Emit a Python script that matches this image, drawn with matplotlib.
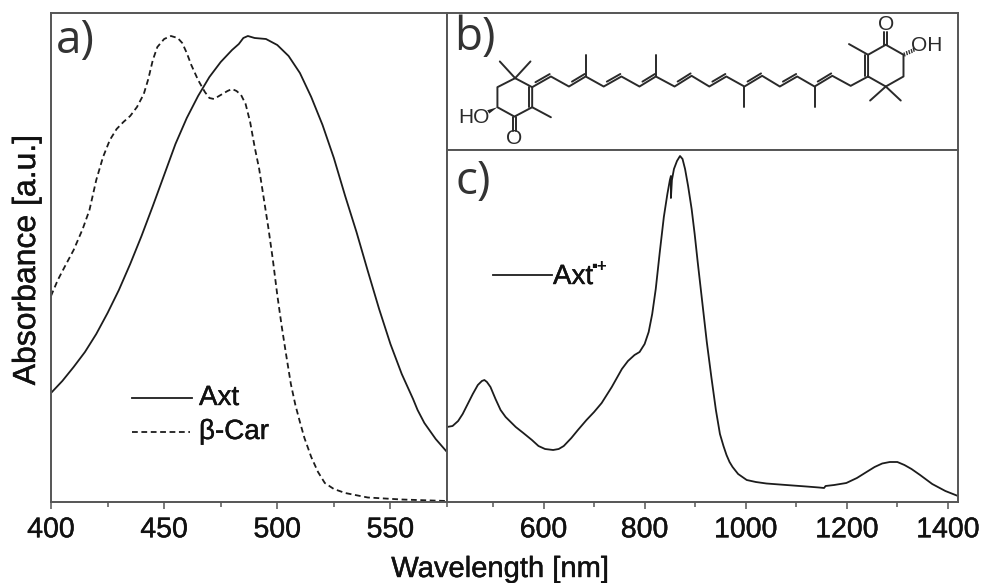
import matplotlib
matplotlib.use("Agg")
import matplotlib.pyplot as plt
import matplotlib.patheffects as pe
from matplotlib.ticker import MultipleLocator

W, H = 982, 583
INK = "#1c1c1c"
FRAME = "#555555"
plt.rcParams["font.family"] = ["Liberation Sans", "DejaVu Sans"]

# --- panel a: absorbance ---
AXT_NM = [400, 405, 410, 415, 420, 425, 430, 435, 440, 445, 450, 455, 460, 465, 470, 475, 480,
          483, 485, 487, 490, 495, 500, 505, 510, 515, 520, 525, 530, 535, 540, 545, 550, 553,
          555, 560, 562, 565, 570, 575]
AXT_ABS = [109, 121, 135, 150, 168, 189, 212, 238, 266, 296, 327, 358, 384, 406, 425, 440, 452,
           458, 464, 466, 464, 463, 457, 446, 429, 405, 377, 344, 306, 270, 231, 193, 158, 140,
           128, 103, 92, 79, 63, 50]
CAR_NM = [400, 403, 406, 410, 414, 417, 420, 423, 426, 429, 432, 435, 438, 441, 443, 445, 447,
          450, 453, 456, 458, 460, 462, 465, 468, 470, 472, 475, 478, 480, 482, 484, 486, 488,
          490, 492, 494, 496, 498, 500, 502, 504, 506, 508, 510, 512, 515, 518, 521, 525, 530,
          540, 555, 575]
CAR_ABS = [206, 222, 235, 252, 273, 292, 322, 345, 362, 373, 380, 386, 395, 408, 423, 442, 455,
           463, 466, 464, 459, 449, 437, 422, 410, 404, 403, 407, 411, 413, 411, 407, 398, 380,
           355, 333, 304, 275, 243, 207, 175, 146, 118, 97, 80, 64, 45, 30, 19, 13, 9,
           4.5, 2.5, 1]

# --- panel c: radical cation ---
RAD_NM = [409, 420, 431, 440, 451, 460, 470, 478, 483, 488, 495, 505, 515, 525, 535, 545, 560,
          577, 590, 603, 619, 630, 640, 655, 668, 685, 700, 715, 725, 735, 745, 755, 767, 780,
          790, 800, 808, 815, 822, 830, 838, 845, 850, 852, 852, 854, 858, 864, 870, 875, 880,
          886, 893, 899, 905, 914, 923, 932, 941, 949, 956, 962, 968, 974, 985, 1002, 1020,
          1041, 1080, 1120, 1145, 1155, 1158, 1175, 1199, 1220, 1239, 1255, 1270, 1285, 1300,
          1314, 1328, 1345, 1369, 1395, 1420]
RAD_ABS = [75, 76, 81, 88, 99, 108, 117, 121, 122, 120, 115, 103, 92, 85, 80, 75, 69,
           62, 56, 53, 52, 53, 56, 64, 72, 82, 90, 99, 107, 115, 124, 133, 141, 147,
           150, 158, 170, 188, 213, 250, 285, 308, 322, 326, 304, 322, 333, 341, 346, 343, 333,
           316, 293, 268, 240, 200, 160, 125, 92, 68, 56, 47, 40, 35, 28, 22, 20,
           18.5, 17, 15.5, 14.5, 14, 16, 17, 19, 24, 30, 35, 38.5, 40, 40,
           37, 33, 27, 18, 11, 6]

# --- panel b: skeletal formula, x/y in the panel's own drawing units ---
CHAIN_X = [250, 305, 358, 407, 460, 512, 565, 613, 668, 718, 770, 820, 873, 925, 977, 1028, 1079, 1131, 1185, 1236]
CHAIN_Y = [262, 230, 260, 230, 260, 230, 260, 230, 260, 228, 260, 230, 260, 228, 260, 230, 260, 228, 258, 230]
CHAIN_DOUBLE = [1, 3, 5, 7, 9, 11, 13, 15, 17]
RING_L_X = [200, 250, 250, 198, 148, 148, 200]
RING_L_Y = [235, 262, 322, 350, 322, 262, 235]
RING_R_X = [1236, 1236, 1288, 1340, 1340, 1288, 1236]
RING_R_Y = [230, 165, 135, 165, 230, 260, 230]
SINGLE_BONDS = [((407, 230), (407, 167)), ((613, 230), (613, 165)),
                ((873, 260), (873, 322)), ((1079, 260), (1079, 322)),
                ((200, 235), (155, 185)), ((200, 235), (245, 185)), ((250, 322), (305, 352)),
                ((1236, 165), (1180, 133)), ((1288, 260), (1242, 302)), ((1288, 260), (1332, 302))]
DOUBLE_BONDS = [((250, 262), (250, 322), 9), ((1236, 230), (1236, 165), 9),
                ((194, 350), (194, 392), 0), ((204, 350), (204, 392), 0),
                ((1283, 135), (1283, 96), 0), ((1293, 135), (1293, 96), 0)]
WEDGE_X = [148, 118, 124]
WEDGE_Y = [322, 331, 341]
HASH_X = [1343, 1350, 1357, 1364, 1370]
HASH_Y = [164, 160, 157, 154, 150]


def panel(left, top, right, bottom):
    ax = fig.add_axes([left / W, 1 - bottom / H, (right - left) / W, (bottom - top) / H])
    for s in ax.spines.values():
        s.set_color(FRAME)
        s.set_linewidth(1.4)
    return ax


fig = plt.figure(figsize=(W / 100, H / 100), dpi=100, facecolor="white")
BOLDER = [pe.withStroke(linewidth=0.3, foreground="#111111")]

# a)
ax_a = panel(51, 13, 447, 502)
ax_a.plot(AXT_NM, AXT_ABS, color=INK, lw=1.3, solid_joinstyle="round")
ax_a.plot(CAR_NM, CAR_ABS, color=INK, lw=1.3, ls=(0, (3.2, 2)))
ax_a.set_xlim(400, 575)
ax_a.set_ylim(0, 489)
ax_a.xaxis.set_major_locator(MultipleLocator(50))
ax_a.xaxis.set_minor_locator(MultipleLocator(25))
ax_a.set_yticks([])

# b)
ax_b = panel(447, 13, 958, 150)
ax_b.set_xlim(0, 1500)
ax_b.set_ylim(450, 40)
ax_b.set_xticks([])
ax_b.set_yticks([])
BOND = dict(color="#2a2a2a", lw=1.4, solid_capstyle="round")
ax_b.plot(CHAIN_X, CHAIN_Y, **BOND)
ax_b.plot(RING_L_X, RING_L_Y, **BOND)
ax_b.plot(RING_R_X, RING_R_Y, **BOND)
for p, q in SINGLE_BONDS:
    ax_b.plot([p[0], q[0]], [p[1], q[1]], **BOND)
for i in CHAIN_DOUBLE:
    dx = CHAIN_X[i] - CHAIN_X[i - 1]
    x0, x1 = CHAIN_X[i - 1] + 0.12 * dx, CHAIN_X[i] - 0.12 * dx
    ya, yb = CHAIN_Y[i - 1], CHAIN_Y[i]
    y0, y1 = ya + 0.12 * (yb - ya), yb - 0.12 * (yb - ya)
    ax_b.plot([x0 + 3, x1 + 3], [y0 - 11, y1 - 11], **BOND)
for p, q, off in DOUBLE_BONDS:
    ax_b.plot([p[0] - off, q[0] - off], [p[1], q[1]], **BOND)
ax_b.fill(WEDGE_X, WEDGE_Y, color="#222222", lw=0)
for x, y in zip(HASH_X, HASH_Y):
    ax_b.plot([x - 1, x + 1], [y - 4, y + 4], color="#333333", lw=1)
CHEM = dict(fontsize=15, color="#2a2a2a", ha="center", va="center")
ax_b.text(78, 354, "HO", **CHEM)
ax_b.text(198, 415, "O", **CHEM)
ax_b.text(1288, 73, "O", **CHEM)
ax_b.text(1408, 138, "OH", **CHEM)

# c)
ax_c = panel(447, 150, 958, 502)
ax_c.plot(RAD_NM, RAD_ABS, color=INK, lw=1.3, solid_joinstyle="round")
ax_c.set_xlim(409, 1420)
ax_c.set_ylim(0, 352)
ax_c.xaxis.set_major_locator(MultipleLocator(200))
ax_c.xaxis.set_minor_locator(MultipleLocator(100))
ax_c.set_yticks([])

for ax in (ax_a, ax_c):
    ax.tick_params(axis="x", which="major", length=5, width=1.1, color=FRAME,
                   labelsize=20.5, labelcolor="#111111", pad=6)
    ax.tick_params(axis="x", which="minor", length=3.5, width=1.1, color=FRAME)
    for lab in ax.get_xticklabels():
        lab.set_path_effects(BOLDER)

# panel letters
LETTER = dict(family="Open Sans", fontsize=33, color="#333333", ha="left", va="center")
fig.text(56 / W, 1 - 41 / H, "a)", **LETTER)
fig.text(454 / W, 1 - 38 / H, "b)", **LETTER)
fig.text(456 / W, 1 - 182 / H, "c)", **LETTER)

# hand-placed legends
ax_a.plot([400 + 81 / 2.26, 400 + 141 / 2.26], [104, 104], color=INK, lw=1.3)
ax_a.plot([400 + 81 / 2.26, 400 + 139 / 2.26], [70, 70], color=INK, lw=1.3, ls=(0, (3.2, 2)))
LEG = dict(fontsize=20, color="#111111", ha="left", va="center", path_effects=BOLDER)
fig.text(199 / W, 1 - 398 / H, "Axt", **LEG)
fig.text(199 / W, 1 - 432 / H, "\u03b2-Car", **LEG)
ax_c.plot([409 + 46 / 0.5063, 409 + 105 / 0.5063], [227, 227], color=INK, lw=1.3)
fig.text(553 / W, 1 - 277 / H, "Axt", **LEG)
fig.text(591 / W, 1 - 266 / H, "\u25aa+", fontsize=12, color="#111111", ha="left", va="center",
         fontweight="bold")

fig.text(500 / W, 1 - 569 / H, "Wavelength [nm]", fontsize=21, color="#111111", ha="center",
         va="center", path_effects=BOLDER)
fig.text(27 / W, 1 - 260 / H, "Absorbance [a.u.]", fontsize=23, color="#111111", rotation=90,
         ha="center", va="center", path_effects=BOLDER)

fig.savefig("out.png", dpi=100, facecolor="white")
